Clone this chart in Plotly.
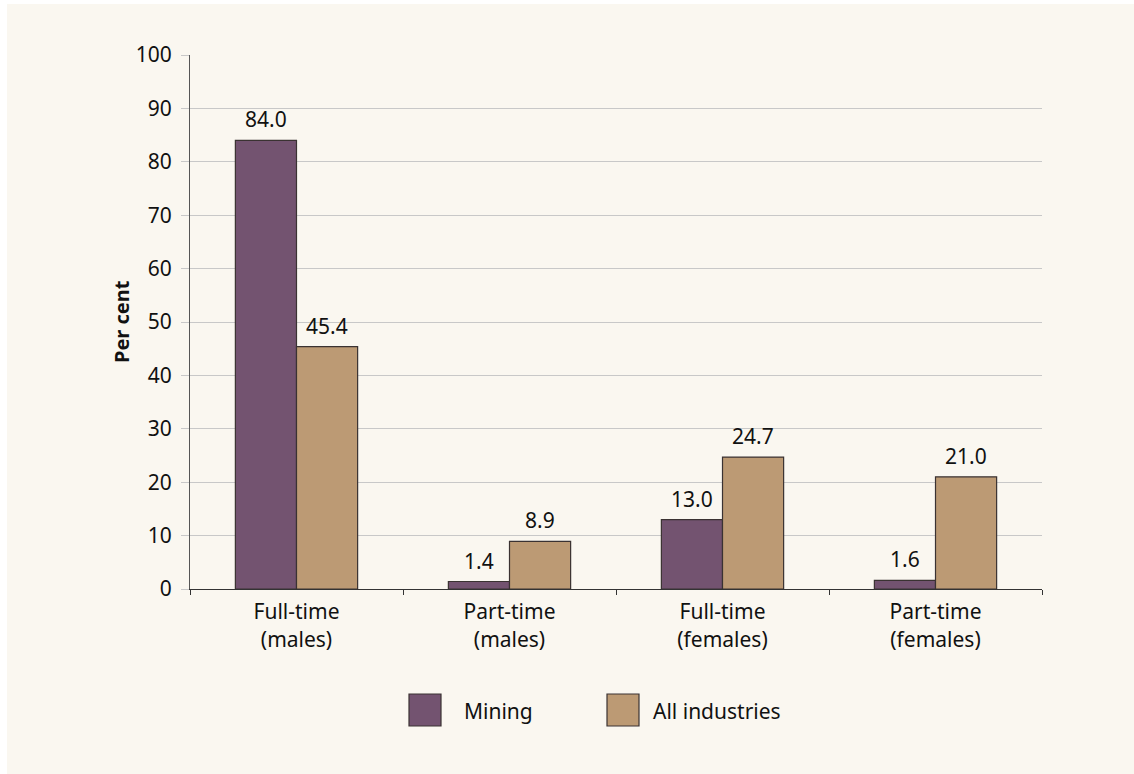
import plotly.graph_objects as go

# Employment shares by employment type
categories = ["Full-time<br>(males)", "Part-time<br>(males)",
              "Full-time<br>(females)", "Part-time<br>(females)"]
series_names = ["Mining", "All industries"]
mining = [84.0, 1.4, 13.0, 1.6]
all_industries = [45.4, 8.9, 24.7, 21.0]
y_ticks = [0, 10, 20, 30, 40, 50, 60, 70, 80, 90, 100]

series_values = [mining, all_industries]
colors = ["#735370", "#bc9a74"]
edge = "#3a3232"
bg = "#faf7f0"
font_family = "Noto Sans, Open Sans, Arial, sans-serif"
text_color = "#111111"

W, H = 1134, 774
ML, MR, MT, MB = 190, 92, 55, 185
PW, PH = W - ML - MR, H - MT - MB


def px_x(px):
    return (px - ML) / PW


def px_y(py):
    return (H - MB - py) / PH


bar_w = 0.287
offsets = [-bar_w, 0.0]

fig = go.Figure()
for name, vals, col, off in zip(series_names, series_values, colors, offsets):
    fig.add_trace(go.Bar(
        x=categories, y=vals, name=name, width=bar_w, offset=off,
        marker=dict(color=col, line=dict(color=edge, width=1.2)),
        showlegend=False, hoverinfo="x+y",
    ))

annotations = []
# value labels above each bar
for vals, off in zip(series_values, offsets):
    for i, v in enumerate(vals):
        annotations.append(dict(
            x=i + off + bar_w / 2, y=v, xref="x", yref="y",
            text=f"{v:.1f}", showarrow=False, yanchor="bottom",
            yshift=5, font=dict(size=21, color=text_color, family=font_family),
        ))

# axis title
annotations.append(dict(
    x=px_x(121), y=0.5, xref="paper", yref="paper", text="<b>Per cent</b>",
    textangle=-90, showarrow=False, xanchor="center", yanchor="middle",
    font=dict(size=20, color=text_color, family=font_family),
))

shapes = [dict(
    type="rect", xref="paper", yref="paper", layer="below",
    x0=px_x(7), x1=px_x(W), y0=px_y(H), y1=px_y(4),
    fillcolor=bg, line=dict(width=0),
)]

# legend: swatch + label for each series
legend_swatch_x = [409, 607]
legend_text_x = [462, 651]
for name, col, sx, tx in zip(series_names, colors, legend_swatch_x, legend_text_x):
    shapes.append(dict(
        type="rect", xref="paper", yref="paper",
        x0=px_x(sx), x1=px_x(sx + 32), y0=px_y(726), y1=px_y(694),
        fillcolor=col, line=dict(color=edge, width=1.2),
    ))
    annotations.append(dict(
        x=px_x(tx), y=px_y(711), xref="paper", yref="paper", text=name,
        showarrow=False, xanchor="left", yanchor="middle",
        font=dict(size=21, color=text_color, family=font_family),
    ))

fig.update_layout(
    width=W, height=H,
    margin=dict(l=ML, r=MR, t=MT, b=MB, pad=0),
    paper_bgcolor="white", plot_bgcolor="rgba(0,0,0,0)",
    barmode="overlay",
    font=dict(family=font_family, size=21, color=text_color),
    shapes=shapes, annotations=annotations,
    xaxis=dict(
        type="category", tickson="boundaries", ticks="outside", ticklen=5,
        tickcolor="#333333", showline=True, linecolor="#333333", linewidth=1.3,
        showgrid=False, tickfont=dict(size=21, color=text_color),
        ticklabelstandoff=4, range=[-0.5, 3.5], fixedrange=True,
    ),
    yaxis=dict(
        range=[0, 100], tickvals=y_ticks, ticks="outside", ticklen=8,
        tickcolor="#c8c8c8", showgrid=True, gridcolor="#c8c8c8", gridwidth=1,
        showline=True, linecolor="#555555", linewidth=1, zeroline=False,
        tickfont=dict(size=21, color=text_color), ticklabelstandoff=5,
        fixedrange=True,
    ),
)

fig.write_html("out.html")
